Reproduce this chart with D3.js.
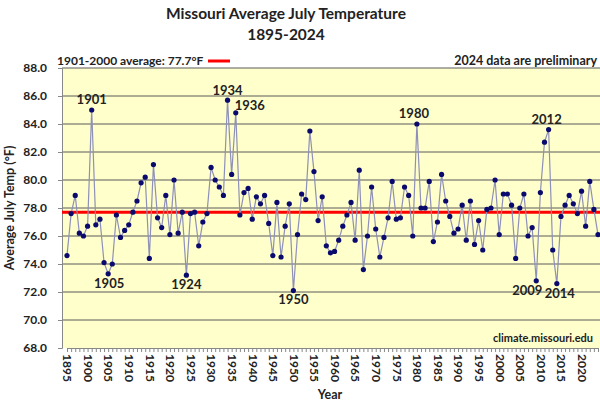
<!DOCTYPE html>
<html><head><meta charset="utf-8">
<script src="https://cdn.jsdelivr.net/npm/d3@7"></script>
<style>body{margin:0;background:#fff;}svg{display:block;font-family:Lato,"Open Sans",sans-serif;}</style>
</head><body>
<svg id="c" width="600" height="403"></svg>
<script>
const startYear = 1895;
const temps = [
 74.6,77.6,78.9,76.2,76.0,76.7,85.0,76.8,77.2,74.1,
 73.3,74.0,77.5,75.9,76.4,76.8,77.7,78.5,79.8,80.2,
 74.4,81.1,77.3,76.6,78.9,76.1,80.0,76.2,77.7,73.2,
 77.6,77.7,75.3,77.0,77.6,80.9,80.0,79.5,78.9,85.7,
 80.4,84.8,77.5,79.1,79.4,77.2,78.8,78.3,78.9,76.9,
 74.6,78.4,74.5,76.7,78.3,72.1,76.1,79.0,78.6,83.5,
 80.6,77.1,78.8,75.3,74.8,74.9,75.7,76.7,77.5,78.4,
 75.7,80.7,73.6,76.0,79.5,76.5,74.5,75.9,77.3,79.9,
 77.2,77.3,79.5,78.9,76.0,84.0,78.0,78.0,79.9,75.6,
 77.0,80.4,78.5,77.4,76.2,76.5,78.2,75.7,78.5,75.4,
 77.1,75.0,77.9,78.0,80.0,76.1,79.0,79.0,78.2,74.4,
 78.0,79.0,76.0,76.6,72.8,79.1,82.7,83.6,75.0,72.6,
 77.4,78.2,78.9,78.3,77.6,79.2,76.7,79.9,77.9,76.1
];
const years = temps.map((d,i)=>startYear+i);
const average = 77.7;
const yTicks = [68,70,72,74,76,78,80,82,84,86,88];
const xTickLabels = d3.range(1895, 2021, 5);
// annotated years and placement (dx, dy relative to the point)
const annotYears = [1901,1905,1924,1934,1936,1950,1980,2009,2012,2014];
const annotPos = {1901:[0,-6],1905:[1,14],1924:[0,14],1934:[0,-5],1936:[14,-3],1950:[0,13],1980:[-3,-6],2009:[-9,14],2012:[-2,-6],2014:[3,14]};

const svg = d3.select("#c");
const x = d3.scalePoint().domain(years).range([67,598]);
const y = d3.scaleLinear().domain([68,88]).range([348,68]);

// plot background
svg.append("rect").attr("x",62).attr("y",y(88)).attr("width",600-62).attr("height",y(68)-y(88)).attr("fill","#ffffcc");

// gridlines
svg.append("g").selectAll("line").data(yTicks.filter(t=>t>68)).join("line")
 .attr("x1",62).attr("x2",600).attr("y1",d=>y(d)).attr("y2",d=>y(d))
 .attr("stroke","#5a5a5a").attr("stroke-width",1);

// y axis
const yAxis = svg.append("g").attr("transform","translate(62,0)")
 .call(d3.axisLeft(y).tickValues(yTicks).tickFormat(d3.format(".1f")).tickSize(4));
yAxis.select(".domain").attr("stroke","#888");
yAxis.selectAll(".tick line").attr("stroke","#888");
yAxis.selectAll("text").attr("font-size",12).attr("font-weight","bold").attr("fill","#222").attr("x",-15)
 .attr("font-family","Lato,sans-serif");

// x axis
const xAxis = svg.append("g").attr("transform","translate(0,348)")
 .call(d3.axisBottom(x).tickSize(4).tickFormat(d=> xTickLabels.includes(d)? d : ""));
xAxis.select(".domain").attr("stroke","#888");
xAxis.selectAll(".tick line").attr("stroke","#888");
xAxis.selectAll("text").attr("font-size",12).attr("font-weight","bold").attr("fill","#222")
 .attr("font-family","Lato,sans-serif")
 .attr("transform","rotate(90)").attr("text-anchor","start").attr("x",6).attr("y",0).attr("dy","0.35em");

// average line
svg.append("line").attr("x1",62).attr("x2",600).attr("y1",y(average)).attr("y2",y(average))
 .attr("stroke","#ff0000").attr("stroke-width",3);

// series line
svg.append("path").datum(temps)
 .attr("d", d3.line().x((d,i)=>x(years[i])).y(d=>y(d)))
 .attr("fill","none").attr("stroke","#8e90b8").attr("stroke-width",1.2);

// markers
svg.append("g").selectAll("circle").data(temps).join("circle")
 .attr("cx",(d,i)=>x(years[i])).attr("cy",d=>y(d)).attr("r",2.6).attr("fill","#0a0a6e");

// annotations
svg.append("g").selectAll("text").data(annotYears).join("text")
 .attr("x",d=>x(d)+annotPos[d][0]).attr("y",d=>y(temps[d-startYear])+annotPos[d][1])
 .attr("text-anchor","middle").attr("font-size",13).attr("font-weight","bold").attr("fill","#222")
 .text(d=>d);

// title
svg.append("text").attr("x",286).attr("y",19).attr("text-anchor","middle").attr("font-size",15.5)
 .attr("font-weight","bold").attr("fill","#222").text("Missouri Average July Temperature");
svg.append("text").attr("x",286).attr("y",40).attr("text-anchor","middle").attr("font-size",15.5)
 .attr("font-weight","bold").attr("fill","#222").text("1895-2024");

// legend
svg.append("text").attr("x",57).attr("y",65).attr("font-size",12).attr("font-weight","bold").attr("fill","#222")
 .text("1901-2000 average: 77.7°F");
svg.append("line").attr("x1",208).attr("x2",230).attr("y1",61).attr("y2",61).attr("stroke","#ff0000").attr("stroke-width",3);
svg.append("text").attr("x",597).attr("y",65).attr("text-anchor","end").attr("font-size",12.5).attr("font-weight","bold").attr("fill","#222")
 .text("2024 data are preliminary");

// source
svg.append("text").attr("x",593).attr("y",342).attr("text-anchor","end").attr("font-size",11).attr("font-weight","bold").attr("fill","#222")
 .text("climate.missouri.edu");

// axis titles
svg.append("text").attr("transform","translate(14,208) rotate(-90)").attr("text-anchor","middle")
 .attr("font-size",12.5).attr("font-weight","bold").attr("fill","#222").text("Average July Temp (°F)");
svg.append("text").attr("x",330).attr("y",399).attr("text-anchor","middle")
 .attr("font-size",12.5).attr("font-weight","bold").attr("fill","#222").text("Year");
</script>
</body></html>
